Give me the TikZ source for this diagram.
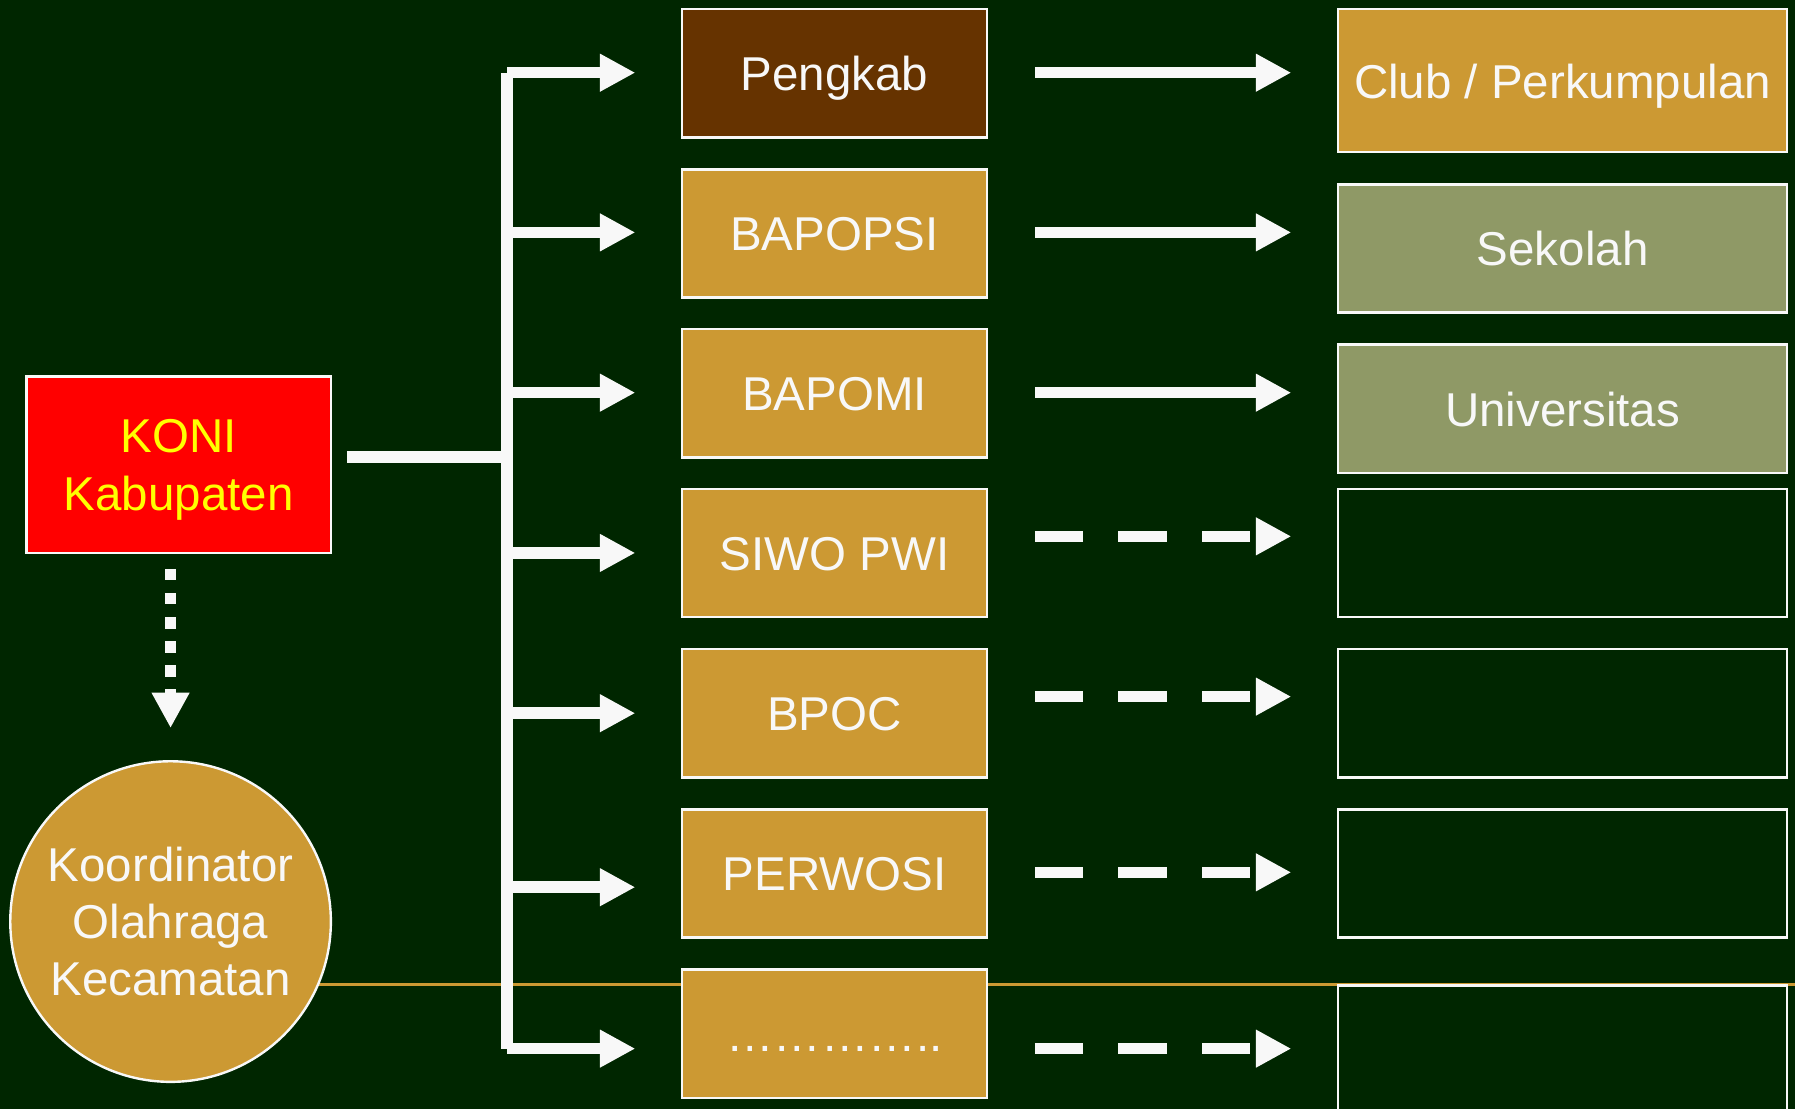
\documentclass[tikz,border=0pt]{standalone}
\usepackage{fontspec}
\setmainfont{Liberation Sans}
\usetikzlibrary{arrows.meta}
\definecolor{bg}{RGB}{0,38,0}
\definecolor{gold}{RGB}{204,153,51}
\definecolor{brownbox}{RGB}{102,51,0}
\definecolor{olive}{RGB}{143,153,102}
\definecolor{wht}{RGB}{248,248,248}
\definecolor{yel}{RGB}{255,255,0}
\begin{document}
\begin{tikzpicture}[x=0.5724pt,y=-0.5724pt,
  box/.style={draw=wht,line width=1.2pt,inner sep=0pt,text=wht,
    font=\fontsize{23.75}{29.2}\selectfont,align=center},
  onebox/.style={box,text height=17.4pt,text depth=-0.5pt},
  midbox/.style={onebox,fill=gold,minimum width=152.26pt,minimum height=64.1pt},
  rbox/.style={onebox,minimum width=224.4pt,minimum height=64.1pt},
  arr/.style={draw=wht,line width=5.724pt,-{Triangle[length=17.7pt,width=17.7pt]}},
  thick line/.style={draw=wht,line width=5.724pt},
  dasharr/.style={arr,dash pattern=on 24.04pt off 17.74pt},
  dotarr/.style={arr,dash pattern=on 5.724pt off 6.3pt}
]
\useasboundingbox (0,0) rectangle (1568,969);
\fill[bg] (0,0) rectangle (1568,969);
\clip (0,0) rectangle (1568,969);

% gold horizontal line
\coordinate (g0) at (149,860);
\coordinate (g1) at (1568,860);
\draw[gold,line width=1.5pt] (g0) -- (g1);

% left nodes
\node[box,fill=red,text=yel,minimum width=152.26pt,minimum height=88.15pt,text depth=-1pt] (koni) at (156,406) {KONI\\Kabupaten};
\node[box,circle,fill=gold,minimum size=160.3pt,text depth=-2.3pt,font=\fontsize{23.75}{28.6}\selectfont] (koord) at (149,805) {Koordinator\\Olahraga\\Kecamatan};

% middle boxes
\node[midbox,fill=brownbox] (m1) at (729,64) {Pengkab};
\node[midbox] (m2) at (729,204) {BAPOPSI};
\node[midbox] (m3) at (729,343.5) {BAPOMI};
\node[midbox] (m4) at (729,483) {SIWO PWI};
\node[midbox] (m5) at (729,623) {BPOC};
\node[midbox] (m6) at (729,763) {PERWOSI};
\node[midbox] (m7) at (729,903) {…………..};

% right boxes
\node[rbox,fill=gold,minimum height=71.55pt] (r1) at (1365,70.5) {Club / Perkumpulan};
\node[rbox,fill=olive] (r2) at (1365,217) {Sekolah};
\node[rbox,fill=olive] (r3) at (1365,357) {Universitas};
\node[rbox] (r4) at (1365,483) {};
\node[rbox] (r5) at (1365,623) {};
\node[rbox] (r6) at (1365,763) {};
\node[rbox] (r7) at (1365,917) {};

% trunk coordinates
\coordinate (t1) at (443,63.5);
\coordinate (t2) at (443,203);
\coordinate (t3) at (443,343);
\coordinate (t4) at (443,483);
\coordinate (t5) at (443,623);
\coordinate (t6) at (443,775);
\coordinate (t7) at (443,916);
\draw[thick line] (t1) -- (t7);
\foreach \i in {1,...,7}{
  \draw[arr] (t\i) -- (t\i -| 555,0);
}

% KONI to trunk
\coordinate (k0) at (303,399);
\draw[thick line] (k0) -- (k0 -| t1);

% KONI to Koordinator (dotted)
\coordinate (d0) at (149,497);
\coordinate (d1) at (149,636);
\draw[dotarr] (d0) -- (d1);

% right arrows
\coordinate (s1) at (904,63.5);
\coordinate (s2) at (904,203);
\coordinate (s3) at (904,343);
\coordinate (s4) at (904,468.5);
\coordinate (s5) at (904,608.5);
\coordinate (s6) at (904,762);
\coordinate (s7) at (904,916);
\foreach \i in {1,2,3}{
  \draw[arr] (s\i) -- (s\i -| 1128,0);
}
\foreach \i in {4,...,7}{
  \draw[dasharr] (s\i) -- (s\i -| 1128,0);
}
\end{tikzpicture}
\end{document}
